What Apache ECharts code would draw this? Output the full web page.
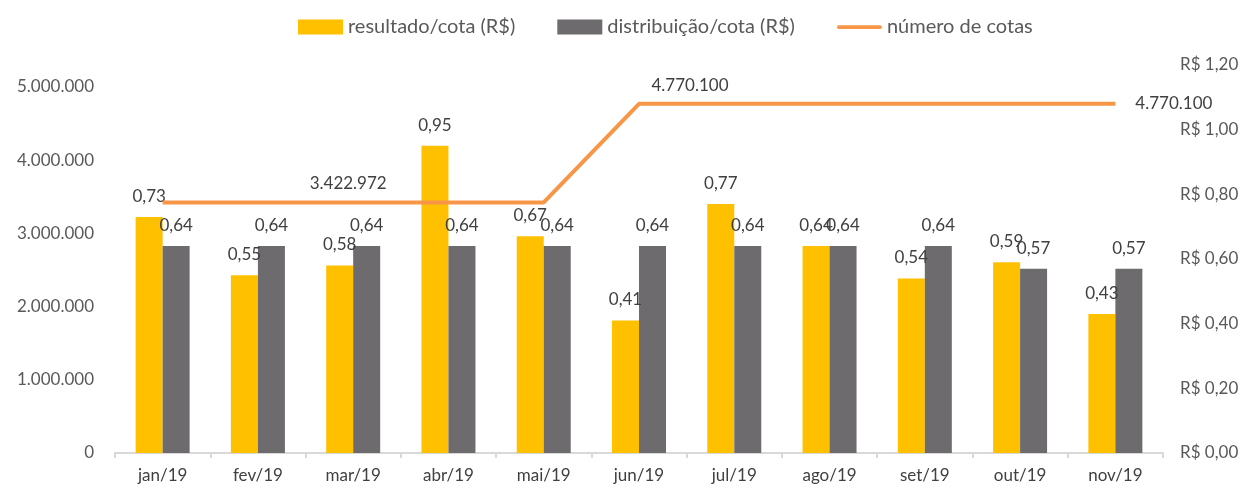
<!DOCTYPE html>
<html>
<head>
<meta charset="utf-8">
<script src="https://cdn.jsdelivr.net/npm/echarts@6/dist/echarts.min.js"></script>
<style>
  html, body { margin: 0; padding: 0; background: #fff; }
  #chart { width: 1255px; height: 490px; }
</style>
</head>
<body>
<div id="chart"></div>
<script>
var months = ['jan/19', 'fev/19', 'mar/19', 'abr/19', 'mai/19', 'jun/19',
  'jul/19', 'ago/19', 'set/19', 'out/19', 'nov/19'];
var resultadoCota = [0.73, 0.55, 0.58, 0.95, 0.67, 0.41, 0.77, 0.64, 0.54, 0.59, 0.43];
var distribuicaoCota = [0.64, 0.64, 0.64, 0.64, 0.64, 0.64, 0.64, 0.64, 0.64, 0.57, 0.57];
var numeroCotas = [3422972, 3422972, 3422972, 3422972, 3422972, 4770100,
  4770100, 4770100, 4770100, 4770100, 4770100];

var textColor = '#404040';
var fontFamily = 'Lato, "Open Sans", sans-serif';

function thousands(v) {
  return String(Math.round(v)).replace(/\B(?=(\d{3})+(?!\d))/g, '.');
}
function decimal(v) {
  return v.toFixed(2).replace('.', ',');
}

// only a few points of the line carry a label
var lineLabels = {
  2: { show: true, position: 'top', distance: 10, offset: [-5, 0] },
  5: { show: true, position: 'top', distance: 10, offset: [51, 0] },
  10: { show: true, position: 'right', distance: 20 }
};
var lineData = numeroCotas.map(function (v, i) {
  var item = { value: v };
  if (lineLabels[i]) item.label = lineLabels[i];
  return item;
});

var myChart = echarts.init(document.getElementById('chart'));

var option = {
  animation: false,
  textStyle: { fontFamily: fontFamily },
  legend: {
    top: 12,
    left: 293,
    itemWidth: 45,
    itemHeight: 15,
    itemGap: 42,
    textStyle: { color: '#595959', fontSize: 20, fontFamily: fontFamily, padding: [0, 0, 0, 0] },
    data: [
      { name: 'resultado/cota (R$)', icon: 'rect' },
      { name: 'distribuição/cota (R$)', icon: 'rect' },
      { name: 'número de cotas', icon: 'path://M2,0 L46,0 A2,2 0 0 1 46,4 L2,4 A2,2 0 0 1 2,0 Z' }
    ]
  },
  grid: { left: 115, right: 92, top: 65, bottom: 37 },
  xAxis: {
    type: 'category',
    data: months,
    axisLine: { lineStyle: { color: '#D9D9D9', width: 2 } },
    axisTick: { show: true, length: 5, lineStyle: { color: '#D9D9D9', width: 2 } },
    axisLabel: { color: textColor, fontSize: 17, margin: 14, fontFamily: fontFamily }
  },
  yAxis: [{
    type: 'value',
    min: 0,
    max: 5300000,
    interval: 1000000,
    splitLine: { show: false },
    axisLine: { show: false },
    axisLabel: {
      color: '#595959',
      fontSize: 17,
      margin: 21,
      showMaxLabel: false,
      fontFamily: fontFamily,
      formatter: function (v) { return thousands(v); }
    }
  }, {
    type: 'value',
    min: 0,
    max: 1.2,
    interval: 0.2,
    splitLine: { show: false },
    axisLine: { show: false },
    axisLabel: {
      color: '#595959',
      fontSize: 17,
      margin: 17,
      fontFamily: fontFamily,
      formatter: function (v) { return 'R$ ' + decimal(v); }
    }
  }],
  series: [{
    name: 'resultado/cota (R$)',
    type: 'bar',
    yAxisIndex: 1,
    barWidth: 27,
    barGap: '0%',
    itemStyle: { color: '#FFC000' },
    label: {
      show: true,
      position: 'top',
      distance: 12,
      color: textColor,
      fontSize: 17,
      fontFamily: fontFamily,
      formatter: function (p) { return decimal(p.value); }
    },
    data: resultadoCota
  }, {
    name: 'distribuição/cota (R$)',
    type: 'bar',
    yAxisIndex: 1,
    barWidth: 27,
    barGap: '0%',
    itemStyle: { color: '#6D6B6E' },
    label: {
      show: true,
      position: 'top',
      distance: 12,
      color: textColor,
      fontSize: 17,
      fontFamily: fontFamily,
      formatter: function (p) { return decimal(p.value); }
    },
    data: distribuicaoCota
  }, {
    name: 'número de cotas',
    type: 'line',
    yAxisIndex: 0,
    showSymbol: true,
    symbol: 'circle',
    symbolSize: 0,
    z: 3,
    itemStyle: { color: '#F79646' },
    lineStyle: { color: '#F79646', width: 4 },
    label: {
      show: false,
      color: textColor,
      fontSize: 17,
      fontFamily: fontFamily,
      formatter: function (p) { return thousands(p.value); }
    },
    data: lineData
  }]
};

myChart.setOption(option);
</script>
</body>
</html>
